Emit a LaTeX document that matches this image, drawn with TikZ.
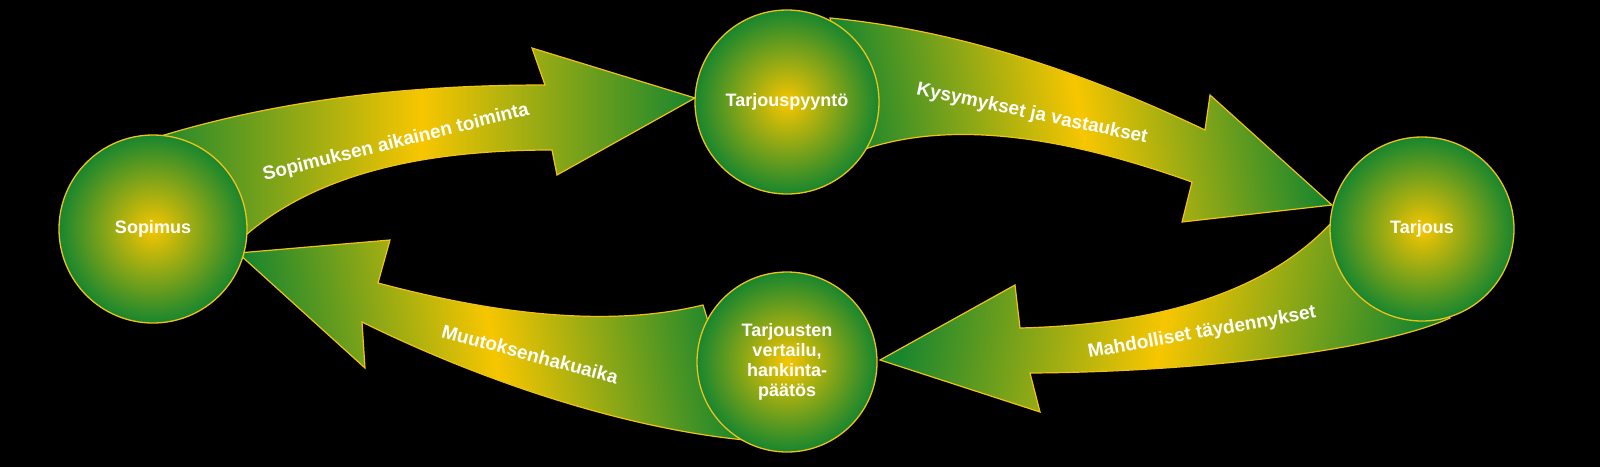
\documentclass[tikz,border=0pt]{standalone}
\usepackage{fontspec}
\setmainfont{Liberation Sans}
\definecolor{gr}{HTML}{18862E}
\definecolor{ye}{HTML}{F7C600}
\definecolor{ol}{HTML}{EFC21A}
\begin{document}
\begin{tikzpicture}[x=1pt,y=-1pt,
  circ/.style={circle,draw=ol,line width=1.3pt,inner color=ye,outer color=gr,minimum size=#1,align=center,text=white,font=\bfseries\fontsize{18}{20}\selectfont,inner sep=0pt},
  arr/.style={draw=ol,line width=1.2pt,left color=gr,right color=gr,middle color=ye,shading angle=#1},
  lab/.style={text=white,font=\bfseries\fontsize{19}{21}\selectfont}]
\useasboundingbox[fill=black] (0,0) rectangle (1600,467);
% arrow 1
\path[arr=90] (148,140) .. controls (290,95) and (430,85) .. (545,85) -- (532,48) -- (695,98) -- (557,175) -- (552,150)
  .. controls (420,150) and (310,175) .. (238,242) -- cycle;
% arrow 2
\path[arr=100] (830,18) .. controls (960,30) and (1090,75) .. (1205,130) -- (1210,95) -- (1332,205) -- (1182,222) -- (1192,182)
  .. controls (1060,135) and (950,120) .. (862,150) -- cycle;
% arrow 3
\path[arr=80] (1332,222) .. controls (1260,300) and (1140,325) .. (1020,328) -- (1015,285) -- (880,360) -- (1040,412) -- (1030,373)
  .. controls (1200,372) and (1380,350) .. (1450,318) -- cycle;
% arrow 4
\path[arr=100] (703,305) .. controls (600,330) and (480,310) .. (378,283) -- (390,240) -- (238,253) -- (365,368) -- (362,322)
  .. controls (500,390) and (640,430) .. (745,440) -- cycle;
\node[circ=188pt] (sop) at (153,229) {Sopimus};
\node[circ=184pt] (tpy) at (787,102) {Tarjouspyyntö};
\node[circ=184pt] (tar) at (1422,229) {Tarjous};
\node[circ=180pt] (ver) at (787,362) {Tarjousten\\vertailu,\\hankinta-\\päätös};
\node[lab,rotate=14] (l1) at (396,143) {Sopimuksen aikainen toiminta};
\node[lab,rotate=-12] (l2) at (1032,114) {Kysymykset ja vastaukset};
\node[lab,rotate=10] (l3) at (1202,333) {Mahdolliset täydennykset};
\node[lab,rotate=-15] (l4) at (530,354) {Muutoksenhakuaika};
\end{tikzpicture}
\end{document}
